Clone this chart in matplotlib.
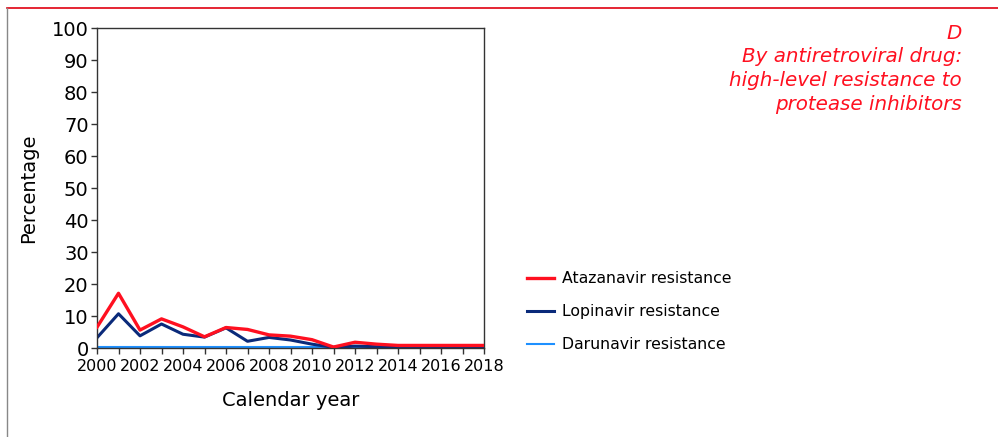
import matplotlib.pyplot as plt
from matplotlib.lines import Line2D

# Data
years = list(range(2000, 2019))
atazanavir = [6.5, 17.1, 5.6, 9.1, 6.6, 3.5, 6.4, 5.8, 4.1, 3.7, 2.6, 0.3, 1.8, 1.2, 0.8, 0.8, 0.8, 0.8, 0.8]
lopinavir = [3.2, 10.7, 3.8, 7.5, 4.3, 3.4, 6.3, 2.1, 3.3, 2.5, 1.2, 0.2, 0.6, 0.4, 0.3, 0.3, 0.3, 0.3, 0.3]
darunavir = [0.3] * 19
series_labels = ['Atazanavir resistance', 'Lopinavir resistance', 'Darunavir resistance']
title_lines = 'D\nBy antiretroviral drug:\nhigh-level resistance to\nprotease inhibitors'

plt.rcParams['font.family'] = ['DejaVu Sans']

fig = plt.figure(figsize=(9.98, 4.37), dpi=100)
W, H = 998, 437
ax = fig.add_axes([97 / W, 1 - 348 / H, (484 - 97) / W, (348 - 28) / H])

l1, = ax.plot(years, atazanavir, color='#ff1020', lw=2.4, zorder=3)
l2, = ax.plot(years, lopinavir, color='#0a2a7a', lw=2.2, zorder=2)
l3, = ax.plot(years, darunavir, color='#1e90ff', lw=1.5, zorder=1)

ax.set_xlim(2000, 2018)
ax.set_ylim(0, 100)
ax.set_yticks(range(0, 101, 10))
ax.set_xticks(range(2000, 2019, 2))
ax.set_xticks(range(2000, 2019), minor=True)
ax.tick_params(axis='y', labelsize=14, length=4, width=1, color='#333333', pad=2)
ax.tick_params(axis='x', which='both', labelsize=11.5, length=4, width=1, color='#333333', pad=4)
for s in ax.spines.values():
    s.set_color('#333333')
    s.set_linewidth(1)

ax.set_ylabel('Percentage', fontsize=14, labelpad=10)
ax.set_xlabel('Calendar year', fontsize=14, labelpad=12)

fig.legend([l1, l2, l3], series_labels, loc='upper left',
           bbox_to_anchor=(513 / W, 1 - 257 / H), frameon=False,
           fontsize=11.3, handlelength=1.7, labelspacing=1.15, handletextpad=0.5)

fig.text(962 / W, 1 - 24 / H, title_lines, ha='right', va='top', color='#ff1020',
         fontsize=14.3, style='italic', linespacing=1.3)

# frame lines of the panel
fig.add_artist(Line2D([7 / W, 1], [1 - 8 / H, 1 - 8 / H], color='#e00010', lw=1.2))
fig.add_artist(Line2D([7 / W, 7 / W], [0, 1 - 8 / H], color='#888888', lw=1))

fig.savefig('out.png', dpi=100)
